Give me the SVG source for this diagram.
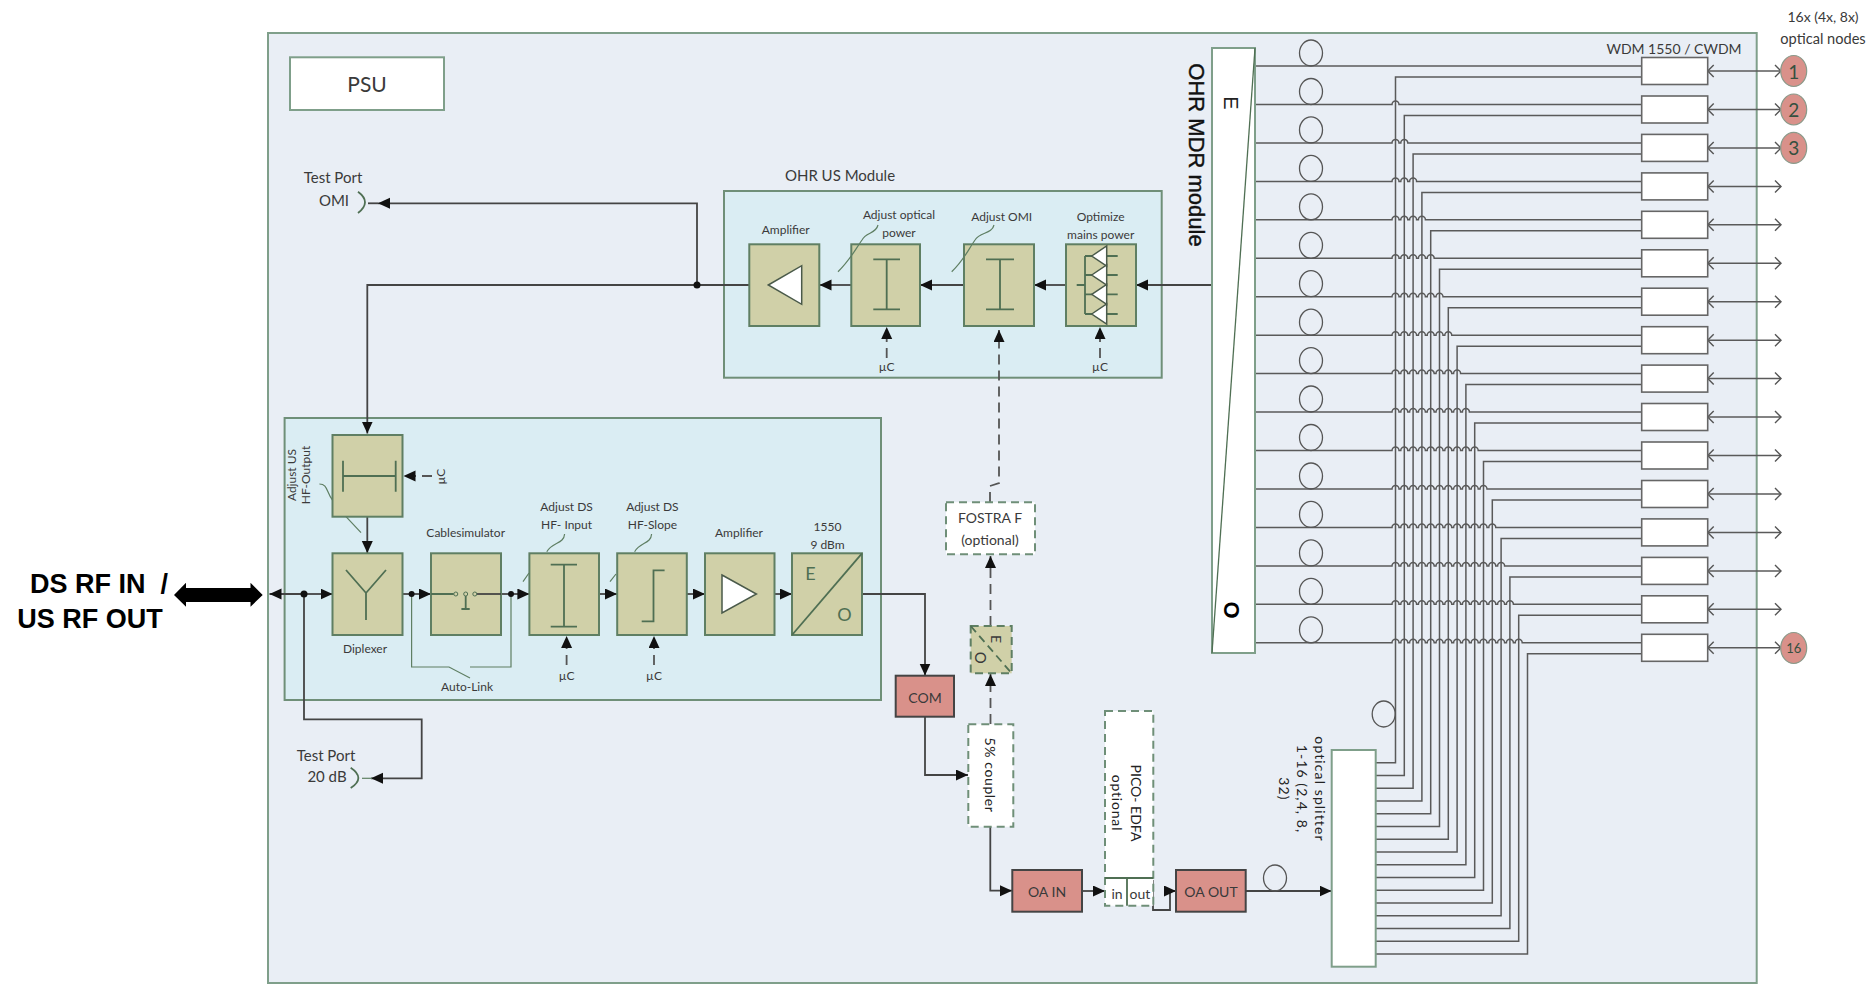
<svg xmlns="http://www.w3.org/2000/svg" width="1872" height="984" viewBox="0 0 1872 984">
<style>
text{font-family:Lato,"Liberation Sans",sans-serif;font-size:12px;fill:#3a3a3a;text-anchor:middle;dominant-baseline:central}
.t14{font-size:14px}.t15{font-size:15px}
.sp{font-size:14px;letter-spacing:1.1px;fill:#222}
.ar{font-family:"Liberation Sans",sans-serif}
.big{font-family:"Liberation Sans",sans-serif;font-weight:700;font-size:27px;fill:#000}
.dg{font-size:19px;fill:#35503f}
.outer{fill:#e9eef5;stroke:#7f9f8a;stroke-width:2}
.mod{fill:#daedf3;stroke:#6f8f78;stroke-width:2}
.blk{fill:#d0d0a8;stroke:#5f7f63;stroke-width:2}
.wht{fill:#fff;stroke:#7f9f8a;stroke-width:2}
.dash{fill:#fff;stroke:#6f8f78;stroke-width:2;stroke-dasharray:8 5}
.red{fill:#d9918a;stroke:#444;stroke-width:2}
.wdm{fill:#fff;stroke:#666;stroke-width:1.6}
.sym{fill:none;stroke:#4f6f53;stroke-width:1.8}
.tri{fill:#fff;stroke:#4a5a4a;stroke-width:1.5}
.ann{fill:none;stroke:#5f7f63;stroke-width:1.2}
.coil{fill:none;stroke:#555;stroke-width:1.3}
.c{fill:none;stroke:#444;stroke-width:1.8}
.cf{fill:none;stroke:#5a5a5a;stroke-width:1.5}
.cl{fill:none;stroke:#5f7f63;stroke-width:1.2}
.cd{fill:none;stroke:#555;stroke-width:1.8;stroke-dasharray:10 6}
.a{marker-end:url(#ah)}
.bi{marker-start:url(#ch);marker-end:url(#ch)}
.dot{fill:#111}
.nd{fill:#d9918a;stroke:#8a9a8a;stroke-width:1.2}
</style>
<defs>
<marker id="ah" markerUnits="userSpaceOnUse" markerWidth="13" markerHeight="12" refX="12" refY="5.5" orient="auto-start-reverse"><path d="M0 0L12 5.5L0 11z" fill="#111"/></marker>
<marker id="ch" markerUnits="userSpaceOnUse" markerWidth="10" markerHeight="14" refX="8" refY="7" orient="auto-start-reverse"><path d="M2 1L8 7L2 13" fill="none" stroke="#555" stroke-width="1.4"/></marker>
</defs>

<rect id="chassis" class="outer" x="268" y="33" width="1488.7" height="950"/>
<rect id="us-module-bg" class="mod" x="724" y="191" width="437.7" height="186.7"/>
<rect id="ds-module-bg" class="mod" x="284.6" y="418" width="596.4" height="282"/>

<g id="connectors">
<path class="c a" d="M1212 285H1136"/>
<path class="c a" d="M1066 285H1034"/>
<path class="c a" d="M964 285H920"/>
<path class="c a" d="M851 285H819.5"/>
<path class="c a" d="M749 285H367.3V433.5"/>
<path class="c a" d="M697 285V203.3H378"/>
<path class="c" d="M378 203.3H368"/>
<path class="c a" d="M367.3 517V553"/>
<path class="c a" d="M304 594H269.5"/>
<path class="c a" d="M304 594H332.5"/>
<path class="c a" d="M304 594V719.3H421.7V778.3H371"/>
<path class="cl" d="M372 778.3H362"/>
<path class="c a" d="M402.5 594H431"/>
<path class="c a" d="M501 594H529.4"/>
<path class="c a" d="M599 594H617"/>
<path class="c a" d="M687 594H705"/>
<path class="c a" d="M774.5 594H792"/>
<path class="cl" d="M411.6 594V667H449L470 678"/>
<path class="cl" d="M470 667H511V594"/>
<path class="c a" d="M862 594H925V675.5"/>
<path class="c a" d="M925 717V775H968"/>
<path class="c a" d="M990.3 827V890.7H1012"/>
<path class="c a" d="M1082 891H1105"/>
<path class="c a" d="M1153 880V910H1170V891H1176"/>
<path class="c a" d="M1246 891H1331.5"/>
<path class="cd a" d="M990.5 724V674"/>
<path class="cd a" d="M990.5 626V556"/>
<path class="cd a" d="M990 502V486L999 483V330"/>
<path class="cd a" d="M886.7 358V327"/>
<path class="cd a" d="M1100 358V327"/>
<path class="cd a" d="M566.6 665V636"/>
<path class="cd a" d="M654 665V636"/>
<path class="cd a" d="M432 476H403.5"/>

<g id="ring-lines" class="cf">
<path d="M1255 66H1641.7"/>
<path d="M1255 104.5H1392a3.5 3.5 0 0 1 7 0H1641.7"/>
<path d="M1255 142.9H1392a3.5 3.5 0 0 1 7 0h1.8a3.5 3.5 0 0 1 7 0H1641.7"/>
<path d="M1255 181.4H1392a3.5 3.5 0 0 1 7 0h1.8a3.5 3.5 0 0 1 7 0h1.8a3.5 3.5 0 0 1 7 0H1641.7"/>
<path d="M1255 219.8H1392a3.5 3.5 0 0 1 7 0h1.8a3.5 3.5 0 0 1 7 0h1.8a3.5 3.5 0 0 1 7 0h1.8a3.5 3.5 0 0 1 7 0H1641.7"/>
<path d="M1255 258.3H1392a3.5 3.5 0 0 1 7 0h1.8a3.5 3.5 0 0 1 7 0h1.8a3.5 3.5 0 0 1 7 0h1.8a3.5 3.5 0 0 1 7 0h1.8a3.5 3.5 0 0 1 7 0H1641.7"/>
<path d="M1255 296.7H1392a3.5 3.5 0 0 1 7 0h1.8a3.5 3.5 0 0 1 7 0h1.8a3.5 3.5 0 0 1 7 0h1.8a3.5 3.5 0 0 1 7 0h1.8a3.5 3.5 0 0 1 7 0h1.8a3.5 3.5 0 0 1 7 0H1641.7"/>
<path d="M1255 335.2H1392a3.5 3.5 0 0 1 7 0h1.8a3.5 3.5 0 0 1 7 0h1.8a3.5 3.5 0 0 1 7 0h1.8a3.5 3.5 0 0 1 7 0h1.8a3.5 3.5 0 0 1 7 0h1.8a3.5 3.5 0 0 1 7 0h1.8a3.5 3.5 0 0 1 7 0H1641.7"/>
<path d="M1255 373.6H1392a3.5 3.5 0 0 1 7 0h1.8a3.5 3.5 0 0 1 7 0h1.8a3.5 3.5 0 0 1 7 0h1.8a3.5 3.5 0 0 1 7 0h1.8a3.5 3.5 0 0 1 7 0h1.8a3.5 3.5 0 0 1 7 0h1.8a3.5 3.5 0 0 1 7 0h1.8a3.5 3.5 0 0 1 7 0H1641.7"/>
<path d="M1255 412H1392a3.5 3.5 0 0 1 7 0h1.8a3.5 3.5 0 0 1 7 0h1.8a3.5 3.5 0 0 1 7 0h1.8a3.5 3.5 0 0 1 7 0h1.8a3.5 3.5 0 0 1 7 0h1.8a3.5 3.5 0 0 1 7 0h1.8a3.5 3.5 0 0 1 7 0h1.8a3.5 3.5 0 0 1 7 0h1.8a3.5 3.5 0 0 1 7 0H1641.7"/>
<path d="M1255 450.5H1392a3.5 3.5 0 0 1 7 0h1.8a3.5 3.5 0 0 1 7 0h1.8a3.5 3.5 0 0 1 7 0h1.8a3.5 3.5 0 0 1 7 0h1.8a3.5 3.5 0 0 1 7 0h1.8a3.5 3.5 0 0 1 7 0h1.8a3.5 3.5 0 0 1 7 0h1.8a3.5 3.5 0 0 1 7 0h1.8a3.5 3.5 0 0 1 7 0h1.8a3.5 3.5 0 0 1 7 0H1641.7"/>
<path d="M1255 489H1392a3.5 3.5 0 0 1 7 0h1.8a3.5 3.5 0 0 1 7 0h1.8a3.5 3.5 0 0 1 7 0h1.8a3.5 3.5 0 0 1 7 0h1.8a3.5 3.5 0 0 1 7 0h1.8a3.5 3.5 0 0 1 7 0h1.8a3.5 3.5 0 0 1 7 0h1.8a3.5 3.5 0 0 1 7 0h1.8a3.5 3.5 0 0 1 7 0h1.8a3.5 3.5 0 0 1 7 0h1.8a3.5 3.5 0 0 1 7 0H1641.7"/>
<path d="M1255 527.4H1392a3.5 3.5 0 0 1 7 0h1.8a3.5 3.5 0 0 1 7 0h1.8a3.5 3.5 0 0 1 7 0h1.8a3.5 3.5 0 0 1 7 0h1.8a3.5 3.5 0 0 1 7 0h1.8a3.5 3.5 0 0 1 7 0h1.8a3.5 3.5 0 0 1 7 0h1.8a3.5 3.5 0 0 1 7 0h1.8a3.5 3.5 0 0 1 7 0h1.8a3.5 3.5 0 0 1 7 0h1.8a3.5 3.5 0 0 1 7 0h1.8a3.5 3.5 0 0 1 7 0H1641.7"/>
<path d="M1255 565.9H1392a3.5 3.5 0 0 1 7 0h1.8a3.5 3.5 0 0 1 7 0h1.8a3.5 3.5 0 0 1 7 0h1.8a3.5 3.5 0 0 1 7 0h1.8a3.5 3.5 0 0 1 7 0h1.8a3.5 3.5 0 0 1 7 0h1.8a3.5 3.5 0 0 1 7 0h1.8a3.5 3.5 0 0 1 7 0h1.8a3.5 3.5 0 0 1 7 0h1.8a3.5 3.5 0 0 1 7 0h1.8a3.5 3.5 0 0 1 7 0h1.8a3.5 3.5 0 0 1 7 0h1.8a3.5 3.5 0 0 1 7 0H1641.7"/>
<path d="M1255 604.3H1392a3.5 3.5 0 0 1 7 0h1.8a3.5 3.5 0 0 1 7 0h1.8a3.5 3.5 0 0 1 7 0h1.8a3.5 3.5 0 0 1 7 0h1.8a3.5 3.5 0 0 1 7 0h1.8a3.5 3.5 0 0 1 7 0h1.8a3.5 3.5 0 0 1 7 0h1.8a3.5 3.5 0 0 1 7 0h1.8a3.5 3.5 0 0 1 7 0h1.8a3.5 3.5 0 0 1 7 0h1.8a3.5 3.5 0 0 1 7 0h1.8a3.5 3.5 0 0 1 7 0h1.8a3.5 3.5 0 0 1 7 0h1.8a3.5 3.5 0 0 1 7 0H1641.7"/>
<path d="M1255 642.8H1392a3.5 3.5 0 0 1 7 0h1.8a3.5 3.5 0 0 1 7 0h1.8a3.5 3.5 0 0 1 7 0h1.8a3.5 3.5 0 0 1 7 0h1.8a3.5 3.5 0 0 1 7 0h1.8a3.5 3.5 0 0 1 7 0h1.8a3.5 3.5 0 0 1 7 0h1.8a3.5 3.5 0 0 1 7 0h1.8a3.5 3.5 0 0 1 7 0h1.8a3.5 3.5 0 0 1 7 0h1.8a3.5 3.5 0 0 1 7 0h1.8a3.5 3.5 0 0 1 7 0h1.8a3.5 3.5 0 0 1 7 0h1.8a3.5 3.5 0 0 1 7 0h1.8a3.5 3.5 0 0 1 7 0H1641.7"/>
</g>
<g id="splitter-lines" class="cf">
<path d="M1641.7 77H1395.5V762.7H1375.7"/>
<path d="M1641.7 115.5H1404.3V775.5H1375.7"/>
<path d="M1641.7 153.9H1413.1V788.2H1375.7"/>
<path d="M1641.7 192.4H1421.9V801H1375.7"/>
<path d="M1641.7 230.8H1430.7V813.7H1375.7"/>
<path d="M1641.7 269.3H1439.5V826.5H1375.7"/>
<path d="M1641.7 307.7H1448.3V839.2H1375.7"/>
<path d="M1641.7 346.2H1457.1V852H1375.7"/>
<path d="M1641.7 384.6H1465.9V864.7H1375.7"/>
<path d="M1641.7 423H1474.7V877.5H1375.7"/>
<path d="M1641.7 461.5H1483.5V890.2H1375.7"/>
<path d="M1641.7 500H1492.3V903H1375.7"/>
<path d="M1641.7 538.4H1501.1V915.7H1375.7"/>
<path d="M1641.7 576.9H1509.9V928.5H1375.7"/>
<path d="M1641.7 615.3H1518.7V941.2H1375.7"/>
<path d="M1641.7 653.8H1527.5V954H1375.7"/>
</g>
<g id="node-lines" class="cf">
<path class="bi" d="M1707.7 71H1781"/>
<path class="bi" d="M1707.7 109.5H1781"/>
<path class="bi" d="M1707.7 147.9H1781"/>
<path class="bi" d="M1707.7 186.4H1781"/>
<path class="bi" d="M1707.7 224.8H1781"/>
<path class="bi" d="M1707.7 263.3H1781"/>
<path class="bi" d="M1707.7 301.7H1781"/>
<path class="bi" d="M1707.7 340.2H1781"/>
<path class="bi" d="M1707.7 378.6H1781"/>
<path class="bi" d="M1707.7 417H1781"/>
<path class="bi" d="M1707.7 455.5H1781"/>
<path class="bi" d="M1707.7 494H1781"/>
<path class="bi" d="M1707.7 532.4H1781"/>
<path class="bi" d="M1707.7 570.9H1781"/>
<path class="bi" d="M1707.7 609.3H1781"/>
<path class="bi" d="M1707.7 647.8H1781"/>
</g>
<g id="junctions">
<circle class="dot" cx="697" cy="285" r="3.5"/>
<circle class="dot" cx="304" cy="594" r="3.5"/>
<circle class="dot" cx="411.6" cy="594" r="3"/>
<circle class="dot" cx="511" cy="594" r="3"/>
</g>
<g id="fibre-coils">
<ellipse class="coil" cx="1311" cy="53" rx="11.5" ry="13"/>
<ellipse class="coil" cx="1311" cy="91.5" rx="11.5" ry="13"/>
<ellipse class="coil" cx="1311" cy="129.9" rx="11.5" ry="13"/>
<ellipse class="coil" cx="1311" cy="168.4" rx="11.5" ry="13"/>
<ellipse class="coil" cx="1311" cy="206.8" rx="11.5" ry="13"/>
<ellipse class="coil" cx="1311" cy="245.3" rx="11.5" ry="13"/>
<ellipse class="coil" cx="1311" cy="283.7" rx="11.5" ry="13"/>
<ellipse class="coil" cx="1311" cy="322.2" rx="11.5" ry="13"/>
<ellipse class="coil" cx="1311" cy="360.6" rx="11.5" ry="13"/>
<ellipse class="coil" cx="1311" cy="399" rx="11.5" ry="13"/>
<ellipse class="coil" cx="1311" cy="437.5" rx="11.5" ry="13"/>
<ellipse class="coil" cx="1311" cy="476" rx="11.5" ry="13"/>
<ellipse class="coil" cx="1311" cy="514.4" rx="11.5" ry="13"/>
<ellipse class="coil" cx="1311" cy="552.9" rx="11.5" ry="13"/>
<ellipse class="coil" cx="1311" cy="591.3" rx="11.5" ry="13"/>
<ellipse class="coil" cx="1311" cy="629.8" rx="11.5" ry="13"/>
<ellipse class="coil" cx="1383.7" cy="714" rx="11.5" ry="13"/>
<ellipse class="coil" cx="1275" cy="878" rx="11.5" ry="13"/>
</g>
</g>

<g id="psu"><rect class="wht" x="290" y="57.3" width="154" height="52.7"/><text x="367" y="83" style="font-size:21px">PSU</text></g>
<g id="test-port-omi">
<path class="sym" d="M358 191.7Q372 202 358 213"/>
<text class="t15" x="333" y="176.7">Test Port</text><text class="t15" x="334" y="200">OMI</text>
</g>
<g id="test-port-20db">
<path class="sym" d="M350.7 767.7Q366 778 350.7 788"/>
<text class="t15" x="326" y="755">Test Port</text><text class="t15" x="327" y="776">20 dB</text>
</g>
<g id="rf-port">
<polygon fill="#000" points="174,595 186,582.7 186,588 250.5,588 250.5,582.7 262.7,595 250.5,606.7 250.5,602 186,602 186,606.7"/>
<text class="big" x="99" y="584" xml:space="preserve">DS RF IN  /</text>
<text class="big" x="90" y="619">US RF OUT</text>
</g>

<text x="840" y="175" class="t15">OHR US Module</text>
<g id="us-amplifier"><rect class="blk" x="749.3" y="244.3" width="70" height="81.7"/><polygon class="tri" points="768.3,285 801.7,265.7 801.7,304.3"/><text x="785.7" y="229">Amplifier</text></g>
<g id="adjust-optical-power"><rect class="blk" x="851.3" y="244.3" width="68.7" height="81.7"/><path class="sym" d="M873.3 259.3H900M886.7 259.3V309.3M873.3 309.3H900"/><text x="899" y="214">Adjust optical</text><text x="899" y="232.7">power</text><path class="ann" d="M838 271.7C850 260 855 250 862 240C866 232 876 234 878 225"/><text x="886.7" y="366.7">µC</text></g>
<g id="adjust-omi"><rect class="blk" x="964" y="244.3" width="70" height="81.7"/><path class="sym" d="M986 259.3H1014M1000 259.3V309.3M986 309.3H1014"/><text x="1001.7" y="216.7">Adjust OMI</text><path class="ann" d="M951.7 271.7C964 260 968 250 975 240C980 232 992 234 994 225"/></g>
<g id="optimize-mains-power"><rect class="blk" x="1066" y="244.3" width="70" height="81.7"/>
<path class="sym" d="M1085 256V314M1076.7 285H1085M1085 256H1092M1085 275H1092M1085 294.3H1092M1085 314H1092M1106.7 256H1117.7M1106.7 275H1117.7M1106.7 294.3H1117.7M1106.7 314H1117.7"/>
<polygon class="tri" points="1091.7,256 1106.7,246 1106.7,266"/><polygon class="tri" points="1091.7,275 1106.7,265 1106.7,285"/><polygon class="tri" points="1091.7,294.3 1106.7,284.3 1106.7,304.3"/><polygon class="tri" points="1091.7,314 1106.7,304 1106.7,324"/>
<text x="1100.7" y="216">Optimize</text><text x="1100.7" y="234">mains power</text><text x="1100" y="366.7">µC</text></g>

<g id="adjust-us-hf-output"><rect class="blk" x="332.5" y="435" width="70" height="81.7"/><path class="sym" d="M343 460.7V491.7M395.7 460.7V491.7M343 476H395.7"/>
<text transform="rotate(-90 291 475)" x="291" y="475">Adjust US</text><text transform="rotate(-90 305.6 475)" x="305.6" y="475">HF-Output</text>
<path class="ann" d="M319.4 484C328 484 326 492 332.5 500M346 516.7L361 532.7"/>
<text transform="rotate(-90 441 476.7)" x="441" y="476.7">µC</text></g>
<g id="diplexer"><rect class="blk" x="332.5" y="553.3" width="70" height="81.7"/><path class="sym" d="M346 570L366 593L386 570M366 593V620"/><text x="365" y="648">Diplexer</text></g>
<g id="cablesimulator"><rect class="blk" x="431" y="553.3" width="70" height="81.7"/>
<path class="sym" d="M431 594H453.8M465.7 596V609M461.4 609H469.7"/><path class="c" d="M476.8 594H501"/>
<circle cx="455.8" cy="594" r="2" fill="#d0d0a8" stroke="#4f6f53"/><circle cx="465.7" cy="594" r="2" fill="#d0d0a8" stroke="#4f6f53"/><circle cx="474.8" cy="594" r="2" fill="#d0d0a8" stroke="#4f6f53"/>
<text x="465.7" y="532.7">Cablesimulator</text><text x="467" y="686">Auto-Link</text></g>
<g id="adjust-ds-hf-input"><rect class="blk" x="529.4" y="553.3" width="69.6" height="81.7"/><path class="sym" d="M550.7 564.7H577M564 564.7V626.7M550.7 626.7H577"/>
<text x="566.6" y="506">Adjust DS</text><text x="566.6" y="524">HF- Input</text><text x="566.6" y="675.7">µC</text>
<path class="ann" d="M564.6 534C564 544 552 542 546.8 551.7M529 573L523 581.7"/></g>
<g id="adjust-ds-hf-slope"><rect class="blk" x="617.2" y="553.3" width="69.6" height="81.7"/><path class="sym" d="M641.7 621.3H653.5V570.3H664.6"/>
<text x="652.4" y="506">Adjust DS</text><text x="652.4" y="524">HF-Slope</text><text x="654" y="675.7">µC</text>
<path class="ann" d="M651.6 534C651 544 640 542 634.6 551.7M616 574L610 581.7"/></g>
<g id="ds-amplifier"><rect class="blk" x="705" y="553.3" width="69.5" height="81.7"/><polygon class="tri" points="722,575 756.4,594 722,613"/><text x="739" y="532.7">Amplifier</text></g>
<g id="eo-1550"><rect class="blk" x="792" y="553.3" width="70" height="81.7"/><path class="sym" d="M792 635L862 553.3"/><text x="810.5" y="573" style="font-size:18px;fill:#4f6f53">E</text><text x="844.5" y="614" style="font-size:18px;fill:#4f6f53">O</text><text x="827.5" y="526.7">1550</text><text x="827.5" y="544">9 dBm</text></g>

<g id="com"><rect class="red" x="895.7" y="675.7" width="58.3" height="41"/><text class="t14" x="925" y="697">COM</text></g>
<g id="five-percent-coupler"><rect class="dash" x="968.3" y="724.3" width="45" height="102.4"/><text class="t14" style="letter-spacing:.6px;fill:#222" transform="rotate(90 990 775)" x="990" y="775">5% coupler</text></g>
<g id="eo-small"><rect class="blk" style="stroke-dasharray:8 5" x="970.7" y="626" width="41" height="47.3"/><path class="sym" style="stroke-dasharray:8 5" d="M970.7 626L1011.7 673.3"/><text transform="rotate(90 996.7 639)" x="996.7" y="639" style="font-size:14px">E</text><text transform="rotate(90 980.7 657.7)" x="980.7" y="657.7" style="font-size:15px">O</text></g>
<g id="fostra-f"><rect class="dash" x="946" y="502.3" width="89" height="52"/><text class="t14" x="990" y="517">FOSTRA F</text><text class="t14" x="990" y="539">(optional)</text></g>
<g id="oa-in"><rect class="red" x="1012.3" y="870" width="69.7" height="41.7"/><text class="t14" x="1047" y="891">OA IN</text></g>
<g id="pico-edfa"><rect class="dash" x="1105" y="711" width="48.3" height="194.7"/><path class="sym" d="M1105 878H1153.3M1127 878V905.7"/>
<text class="t14" x="1117" y="893">in</text><text class="t14" x="1140" y="893">out</text>
<text class="t14" style="fill:#222" transform="rotate(90 1136.7 803)" x="1136.7" y="803">PICO- EDFA</text><text class="t14" style="letter-spacing:.8px;fill:#222" transform="rotate(90 1117 803)" x="1117" y="803">optional</text></g>
<g id="oa-out"><rect class="red" x="1176" y="870" width="69.7" height="41.7"/><text class="t14" x="1211" y="891">OA OUT</text></g>
<g id="optical-splitter"><rect class="wht" x="1331.7" y="750" width="44" height="216.7"/>
<text class="sp" transform="rotate(90 1320.7 789)" x="1320.7" y="789">optical splitter</text><text class="sp" transform="rotate(90 1302.7 789)" x="1302.7" y="789">1-16 (2,4, 8,</text><text class="sp" transform="rotate(90 1284 789)" x="1284" y="789">32)</text></g>
<g id="ohr-mdr-module"><rect class="wht" x="1212" y="48" width="43" height="605"/><path fill="none" stroke="#4f6f53" stroke-width="1.3" d="M1255 48L1212 653"/>
<text class="ar" transform="rotate(90 1196 155)" x="1196" y="155" style="font-size:22px;fill:#111;stroke:#111;stroke-width:.4">OHR MDR module</text>
<text class="ar" transform="rotate(90 1231 103)" x="1231" y="103" style="font-size:20px;fill:#222">E</text>
<text class="ar" transform="rotate(90 1231 610)" x="1231" y="610" style="font-size:22px;font-weight:700;fill:#000">O</text></g>

<g id="wdm-filters">
<text class="t14" x="1674" y="48">WDM 1550 / CWDM</text>
<rect class="wdm" x="1641.7" y="57.5" width="66" height="27"/>
<rect class="wdm" x="1641.7" y="96" width="66" height="27"/>
<rect class="wdm" x="1641.7" y="134.4" width="66" height="27"/>
<rect class="wdm" x="1641.7" y="172.9" width="66" height="27"/>
<rect class="wdm" x="1641.7" y="211.3" width="66" height="27"/>
<rect class="wdm" x="1641.7" y="249.8" width="66" height="27"/>
<rect class="wdm" x="1641.7" y="288.2" width="66" height="27"/>
<rect class="wdm" x="1641.7" y="326.7" width="66" height="27"/>
<rect class="wdm" x="1641.7" y="365.1" width="66" height="27"/>
<rect class="wdm" x="1641.7" y="403.5" width="66" height="27"/>
<rect class="wdm" x="1641.7" y="442" width="66" height="27"/>
<rect class="wdm" x="1641.7" y="480.5" width="66" height="27"/>
<rect class="wdm" x="1641.7" y="518.9" width="66" height="27"/>
<rect class="wdm" x="1641.7" y="557.4" width="66" height="27"/>
<rect class="wdm" x="1641.7" y="595.8" width="66" height="27"/>
<rect class="wdm" x="1641.7" y="634.3" width="66" height="27"/>
</g>
<g id="optical-nodes">
<text class="t14" x="1823" y="16">16x (4x, 8x)</text><text class="t14" style="font-size:14.6px" x="1823" y="38">optical nodes</text>
<g id="node-1"><ellipse class="nd" cx="1793.7" cy="71" rx="13" ry="15.5"/><text class="dg" x="1793.7" y="71">1</text></g>
<g id="node-2"><ellipse class="nd" cx="1793.7" cy="109.5" rx="13" ry="15.5"/><text class="dg" x="1793.7" y="109.5">2</text></g>
<g id="node-3"><ellipse class="nd" cx="1793.7" cy="147.9" rx="13" ry="15.5"/><text class="dg" x="1793.7" y="147.9">3</text></g>
<g id="node-16"><ellipse class="nd" cx="1793.7" cy="648" rx="13" ry="15.5"/><text style="font-size:13px;fill:#35503f" x="1793.7" y="648">16</text></g>
</g>
</svg>
